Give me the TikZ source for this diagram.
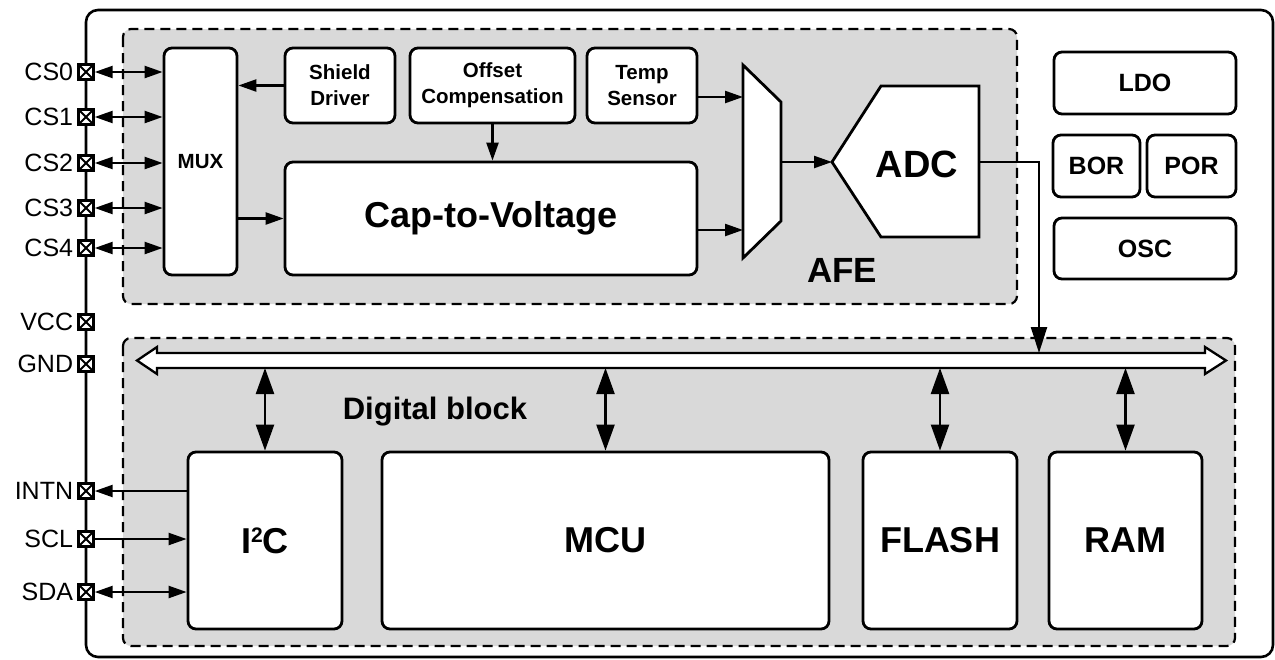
\documentclass[tikz,border=0pt]{standalone}
\usepackage{fontspec}
\setmainfont{Liberation Sans}
\usetikzlibrary{arrows.meta}

\tikzset{
  blk/.style={draw, fill=white, line width=2.8pt, rounded corners=8pt, align=center, inner sep=0pt},
  small/.style={font=\fontsize{20.5}{26}\selectfont\bfseries},
  mid/.style={font=\fontsize{25}{30}\selectfont\bfseries},
  big/.style={font=\fontsize{36}{40}\selectfont\bfseries},
  region/.style={draw, fill=gray!30, line width=2.2pt, dash pattern=on 10pt off 6pt, rounded corners=8pt},
  pinbox/.style={draw, fill=white, line width=2.4pt, minimum size=15pt, inner sep=0pt,
    path picture={\draw[line width=1.8pt] (path picture bounding box.south west) -- (path picture bounding box.north east)
      (path picture bounding box.north west) -- (path picture bounding box.south east);}},
  pinlabel/.style={font=\fontsize{25}{30}\selectfont, inner sep=4pt},
  wire/.style={line width=2.3pt},
  sig/.style={wire, -{Triangle[length=18pt,width=12pt]}},
  bisig/.style={wire, {Triangle[length=18pt,width=12pt]}-{Triangle[length=18pt,width=12pt]}},
  busio/.style={wire, {Triangle[length=26pt,width=18pt]}-{Triangle[length=26pt,width=18pt]}},
}

\begin{document}
\begin{tikzpicture}[x=1pt, y=-1pt]
\useasboundingbox (0,0) rectangle (1275,659);
\draw [line width=2.6pt, rounded corners=12pt] (86,10) rectangle (1273,657);
\draw [region] (123,29) rectangle (1017,304);
\draw [region] (123,338) rectangle (1235,646);

\node [blk, small, minimum width=73pt, minimum height=227pt] (mux) at (200.5,161.5) {MUX};
\node [blk, small, minimum width=110pt, minimum height=75pt] (shield) at (340,85.5) {Shield\\Driver};
\node [blk, small, minimum width=165pt, minimum height=75pt] (offset) at (492.5,85.5) {Offset\\Compensation};
\node [blk, small, minimum width=110pt, minimum height=75pt] (temp) at (642,85.5) {Temp\\Sensor};
\node [blk, big, minimum width=412pt, minimum height=113pt] (c2v) at (491,218.5) {Cap-to-Voltage};

\draw [line width=2.8pt, fill=white] (743,65) -- (781,102) -- (781,221) -- (743,258) -- cycle;
\coordinate (ain1) at (743,97);
\coordinate (ain2) at (743,230);
\coordinate (aout) at (781,162);
\draw [line width=2.8pt, fill=white] (832,162) -- (881,86) -- (979,86) -- (979,237) -- (881,237) -- cycle;
\coordinate (adcin) at (832,162);
\coordinate (adcout) at (979,162);
\node [font=\fontsize{38}{40}\selectfont\bfseries] (adc) at (917,164) {ADC};
\node [font=\fontsize{35}{40}\selectfont\bfseries] (afe) at (842,270) {AFE};

\node [blk, mid, minimum width=182pt, minimum height=62pt] (ldo) at (1145,83) {LDO};
\node [blk, mid, minimum width=87pt, minimum height=62pt] (bor) at (1096.5,166) {BOR};
\node [blk, mid, minimum width=89pt, minimum height=62pt] (por) at (1191.5,166) {POR};
\node [blk, mid, minimum width=182pt, minimum height=61pt] (osc) at (1145,248.5) {OSC};

\draw [wire, fill=white] (137,360.5) -- (157,347) -- (157,353) -- (1205,353) -- (1205,347)
  -- (1226,360.5) -- (1205,374) -- (1205,368) -- (157,368) -- (157,374) -- cycle;
\coordinate (busbot) at (0,368);
\coordinate (busin) at (1039,353);
\node [font=\fontsize{31}{36}\selectfont\bfseries] (dig) at (435,412) {Digital block};

\node [blk, big, minimum width=154pt, minimum height=177pt] (i2c) at (265,540.5)
  {I\raisebox{11pt}{\fontsize{21}{21}\selectfont 2}C};
\node [blk, big, minimum width=447pt, minimum height=177pt] (mcu) at (605.5,540.5) {MCU};
\node [blk, big, minimum width=154pt, minimum height=177pt] (flash) at (940,540.5) {FLASH};
\node [blk, big, minimum width=153pt, minimum height=177pt] (ram) at (1125.5,540.5) {RAM};

\foreach \pn/\py in {CS0/72, CS1/117, CS2/163, CS3/208, CS4/248, VCC/322, GND/364, INTN/491, SCL/539, SDA/592}
  \node [pinbox, label={[pinlabel]left:\pn}] (pin\pn) at (86,\py) {};

\foreach \pn in {CS0, CS1, CS2, CS3, CS4}
  \draw [bisig] (pin\pn.east) -- (pin\pn -| mux.west);
\draw [sig] (shield.west) -- (shield.west -| mux.east);
\draw [sig] (mux.east |- c2v.west) -- (c2v.west);
\draw [sig] (offset.south) -- (offset.south |- c2v.north);
\draw [sig] (temp.east |- ain1) -- (ain1);
\draw [sig] (c2v.east |- ain2) -- (ain2);
\draw [sig] (aout) -- (adcin);
\draw [wire, -{Triangle[length=26pt,width=16pt]}] (adcout) -| (busin);

\foreach \b in {i2c, mcu, flash, ram}
  \draw [busio] (\b.north |- busbot) -- (\b.north);
\draw [sig] (i2c.west |- pinINTN) -- (pinINTN.east);
\draw [sig] (pinSCL.east) -- (pinSCL -| i2c.west);
\draw [bisig] (pinSDA.east) -- (pinSDA -| i2c.west);
\end{tikzpicture}
\end{document}
